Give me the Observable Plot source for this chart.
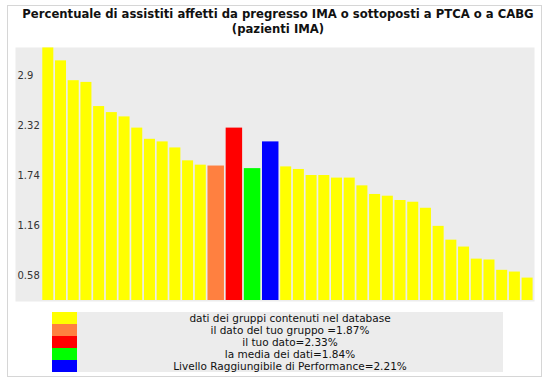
<!DOCTYPE html>
<html><head><meta charset="utf-8">
<script src="https://cdn.jsdelivr.net/npm/d3@7"></script>
<script src="https://cdn.jsdelivr.net/npm/@observablehq/plot@0.6"></script>
<style>
body{margin:0;background:#fff;}
#wrap{position:relative;width:548px;height:384px;overflow:hidden;font-family:"DejaVu Sans",sans-serif;}
#border{position:absolute;left:7px;top:5px;width:535px;height:372px;border:1px solid #d6d6d6;box-sizing:border-box;}
#title{position:absolute;left:0;top:7px;width:556px;text-align:center;font-weight:bold;font-size:11.65px;line-height:15px;color:#111;}
#chart{position:absolute;left:0;top:40px;}
#legend{position:absolute;left:52px;top:312px;border-collapse:collapse;}
#legend td{padding:0;height:12px;}
#legend td.sw{width:25px;}
#legend td.tx{width:426px;background:#ececec;text-align:center;font-size:10.5px;line-height:12px;color:#111;white-space:nowrap;}
</style></head>
<body>
<div id="wrap">
  <div id="border"></div>
  <div id="title"></div>
  <div id="chart"></div>
  <table id="legend"></table>
</div>
<script>
const titleLines = ["Percentuale di assistiti affetti da pregresso IMA o sottoposti a PTCA o a CABG", "(pazienti IMA)"];
const groupLabel = "dati dei gruppi contenuti nel database";
const leftGroups = [3.22, 3.07, 2.84, 2.82, 2.54, 2.47, 2.42, 2.29, 2.16, 2.13, 2.06, 1.91, 1.86];
const highlightLabels = ["il dato del tuo gruppo ", "il tuo dato", "la media dei dati", "Livello Raggiungibile di Performance"];
const highlightBars = [1.85, 2.29, 1.82, 2.13];
const highlightStated = ["1.87", "2.33", "1.84", "2.21"];
const rightGroups = [1.84, 1.81, 1.74, 1.74, 1.71, 1.71, 1.62, 1.52, 1.50, 1.45, 1.43, 1.36, 1.15, 0.99, 0.91, 0.77, 0.76, 0.64, 0.62, 0.55];
const yTicks = [0.58, 1.16, 1.74, 2.32, 2.9];
const yDomain = [0.29, 3.225];

const groupColor = "#ffff00";
const highlightColors = ["#ff8040", "#ff0000", "#00ff00", "#0000ff"];
const highlightWidth = 1.43;

// title
document.getElementById("title").innerHTML = titleLines.map(t => `<div>${t}</div>`).join("");

// build bar table
const rows = [];
leftGroups.forEach(v => rows.push({kind: "db", value: v}));
highlightBars.forEach((v, i) => rows.push({kind: "h" + i, value: v}));
rightGroups.forEach(v => rows.push({kind: "db", value: v}));
let acc = 0;
rows.forEach(r => { const w = r.kind === "db" ? 1 : highlightWidth; r.x1 = acc; r.x2 = acc + w; acc += w; });
const total = acc;

const chart = Plot.plot({
  width: 548, height: 265,
  marginLeft: 15, marginRight: 14, marginTop: 7, marginBottom: 4,
  style: {fontFamily: "DejaVu Sans", background: "transparent"},
  x: {domain: [0, total], range: [42, 534], axis: null},
  y: {domain: yDomain, range: [260, 7], axis: null},
  color: {domain: ["db", "h0", "h1", "h2", "h3"], range: [groupColor, ...highlightColors]},
  marks: [
    Plot.frame({fill: "#ececec", stroke: "none"}),
    Plot.rect(rows, {x1: "x1", x2: "x2", y1: () => yDomain[0], y2: "value", fill: "kind", insetLeft: 0.3, insetRight: 1.4, clip: true}),
    Plot.text(yTicks, {y: d => d, text: d => String(d), frameAnchor: "left", dx: 2, textAnchor: "start", fontSize: 10, fill: "#333"})
  ]
});
document.getElementById("chart").appendChild(chart);

// legend
const legendItems = [{c: groupColor, t: groupLabel}].concat(highlightLabels.map((l, i) => ({c: highlightColors[i], t: `${l}=${highlightStated[i]}%`})));
document.getElementById("legend").innerHTML = legendItems.map(d => `<tr><td class="sw" style="background:${d.c}"></td><td class="tx">${d.t}</td></tr>`).join("");
</script>
</body></html>
